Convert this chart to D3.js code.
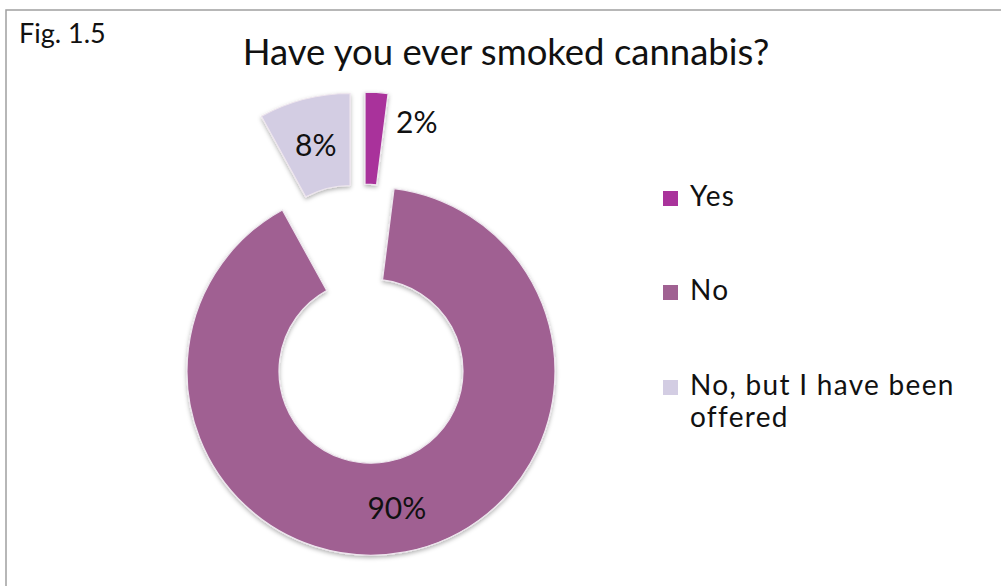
<!DOCTYPE html>
<html>
<head>
<meta charset="utf-8">
<script src="https://cdn.jsdelivr.net/npm/d3@7"></script>
<style>
  html, body { margin: 0; padding: 0; background: #fff; }
  svg { display: block; }
  text { font-family: Lato, "Open Sans", sans-serif; fill: #111; }
</style>
</head>
<body>
<svg id="chart" width="1001" height="586"></svg>
<script>
const categories = ["Yes", "No", "No, but I have been offered"];
const values = [2, 90, 8];
const valueLabels = ["2%", "90%", "8%"];
const legendLines = [["Yes"], ["No"], ["No, but I have been", "offered"]];
const colors = ["#a9339b", "#a06192", "#d3cde3"];
const title = "Have you ever smoked cannabis?";
const figLabel = "Fig. 1.5";

const svg = d3.select("#chart");
const W = 1001, H = 586;

// frame
svg.append("path")
  .attr("d", `M6,${H} L6,10 L${W},10`)
  .attr("fill", "none")
  .attr("stroke", "#a0a0a0")
  .attr("stroke-width", 1.5);

svg.append("text").attr("x", 19).attr("y", 43)
  .attr("font-size", 27).text(figLabel);

svg.append("text").attr("x", 506).attr("y", 65)
  .attr("text-anchor", "middle")
  .attr("font-size", 36.5).text(title);

const defs = svg.append("defs");
const f = defs.append("filter").attr("id", "shadow")
  .attr("x", "-20%").attr("y", "-20%").attr("width", "140%").attr("height", "140%");
f.append("feDropShadow").attr("dx", 0).attr("dy", 2).attr("stdDeviation", 2)
  .attr("flood-color", "#000").attr("flood-opacity", 0.3);

const cx = 362, cy = 324, R = 184, r = 92, explode = 48;

const pie = d3.pie().sort(null).value(d => d).startAngle(0).endAngle(2 * Math.PI);
const arcs = pie(values);
const arc = d3.arc().innerRadius(r).outerRadius(R);
const labelArc = d3.arc().innerRadius((R + r) / 2).outerRadius((R + r) / 2);

const g = svg.append("g").attr("transform", `translate(${cx},${cy})`);

const slices = g.selectAll("g.slice").data(arcs).join("g")
  .attr("class", "slice")
  .attr("transform", d => {
    const m = (d.startAngle + d.endAngle) / 2;
    return `translate(${explode * Math.sin(m)},${-explode * Math.cos(m)})`;
  });

slices.append("path")
  .attr("d", arc)
  .attr("fill", (d, i) => colors[i])
  .attr("stroke", "#eee6ee")
  .attr("stroke-width", 1.2)
  .attr("filter", "url(#shadow)");

slices.each(function(d, i) {
  const sel = d3.select(this);
  if (d.endAngle - d.startAngle > 0.3) {
    const c = labelArc.centroid(d);
    sel.append("text")
      .attr("x", c[0]).attr("y", c[1])
      .attr("text-anchor", "middle")
      .attr("dominant-baseline", "central")
      .attr("font-size", 30)
      .text(valueLabels[i]);
  } else {
    const a = d.endAngle;
    const ox = R * Math.sin(a), oy = -R * Math.cos(a);
    sel.append("text")
      .attr("x", ox + 8).attr("y", oy + 39)
      .attr("font-size", 30)
      .text(valueLabels[i]);
  }
});

// legend
const legendY = [206, 300, 395];
const lg = svg.append("g");
categories.forEach((c, i) => {
  lg.append("rect")
    .attr("x", 663).attr("y", legendY[i] - 15)
    .attr("width", 15).attr("height", 15)
    .attr("fill", colors[i]);
  const t = lg.append("text").attr("x", 690).attr("y", legendY[i])
    .attr("font-size", 28).attr("letter-spacing", 1.3);
  legendLines[i].forEach((line, j) => {
    t.append("tspan").attr("x", 690).attr("dy", j === 0 ? 0 : 32).text(line);
  });
});
</script>
</body>
</html>
